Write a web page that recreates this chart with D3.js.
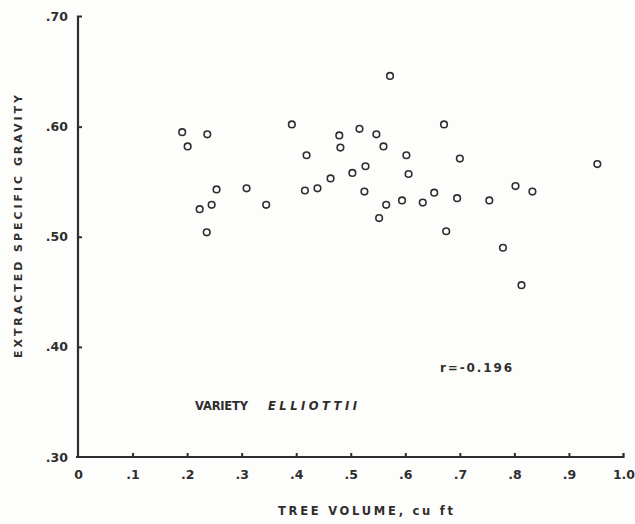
<!DOCTYPE html>
<html>
<head>
<meta charset="utf-8">
<script src="https://cdn.jsdelivr.net/npm/d3@7"></script>
<style>
  html, body { margin: 0; padding: 0; background: #fdfdfb; }
  svg { display: block; }
</style>
</head>
<body>
<svg id="chart" width="635" height="524"></svg>
<script>
// ---- data ----
const treeVolume = [0.191, 0.237, 0.201, 0.254, 0.309, 0.223, 0.245, 0.345, 0.236, 0.392,
                    0.419, 0.416, 0.439, 0.463, 0.479, 0.481, 0.503, 0.516, 0.527, 0.525,
                    0.547, 0.560, 0.572, 0.565, 0.552, 0.602, 0.606, 0.594, 0.632, 0.653,
                    0.671, 0.700, 0.695, 0.675, 0.754, 0.779, 0.802, 0.833, 0.813, 0.952];
const specificGravity = [0.595, 0.593, 0.582, 0.543, 0.544, 0.525, 0.529, 0.529, 0.504, 0.602,
                         0.574, 0.542, 0.544, 0.553, 0.592, 0.581, 0.558, 0.598, 0.564, 0.541,
                         0.593, 0.582, 0.646, 0.529, 0.517, 0.574, 0.557, 0.533, 0.531, 0.540,
                         0.602, 0.571, 0.535, 0.505, 0.533, 0.490, 0.546, 0.541, 0.456, 0.566];
const xTicks = [0, 0.1, 0.2, 0.3, 0.4, 0.5, 0.6, 0.7, 0.8, 0.9, 1.0];
const xTickLabels = ["0", ".1", ".2", ".3", ".4", ".5", ".6", ".7", ".8", ".9", "1.0"];
const yTicks = [0.30, 0.40, 0.50, 0.60, 0.70];
const yTickLabels = [".30", ".40", ".50", ".60", ".70"];
const xTitle = "TREE  VOLUME, cu ft";
const yTitle = "EXTRACTED  SPECIFIC  GRAVITY";
const corrText = "r=-0.196";
const varietyLabel = "VARIETY";
const varietyName = "ELLIOTTII";

// ---- layout ----
const W = 635, H = 524;
const m = { left: 78, right: 11.5, top: 16.5, bottom: 67 };
const ink = "#2e2e2e";
const fontFam = "'DejaVu Sans', 'Liberation Sans', sans-serif";

const svg = d3.select("#chart");
const x = d3.scaleLinear().domain([0, 1]).range([m.left, W - m.right]);
const y = d3.scaleLinear().domain([0.30, 0.70]).range([H - m.bottom, m.top]);

// x axis
const xAxis = d3.axisBottom(x)
  .tickValues(xTicks)
  .tickFormat((d, i) => xTickLabels[i])
  .tickSizeInner(-4).tickSizeOuter(0).tickPadding(13);
const gx = svg.append("g").attr("transform", `translate(0,${y(0.30)})`).call(xAxis);
gx.select(".domain").attr("stroke", ink).attr("stroke-width", 2.2)
  .attr("d", `M${x(0) - 2},0H${x(1)}V-4`);
gx.selectAll(".tick line").attr("stroke", ink).attr("stroke-width", 2);
gx.selectAll(".tick").filter(d => d === 0 || d === 1).select("line").remove();
gx.selectAll(".tick text").attr("fill", ink)
  .style("font-family", fontFam).style("font-size", "12.5px").style("font-weight", "bold");

// y axis
const yAxis = d3.axisLeft(y)
  .tickValues(yTicks)
  .tickFormat((d, i) => yTickLabels[i])
  .tickSizeInner(-4).tickSizeOuter(0).tickPadding(10);
const gy = svg.append("g").attr("transform", `translate(${x(0)},0)`).call(yAxis);
gy.select(".domain").attr("stroke", ink).attr("stroke-width", 2.2)
  .attr("d", `M4,${y(0.70)}H0V${y(0.30) + 1}`);
gy.selectAll(".tick line").attr("stroke", ink).attr("stroke-width", 2);
gy.selectAll(".tick").filter(d => d === 0.30 || d === 0.70).select("line").remove();
gy.selectAll(".tick text").attr("fill", ink)
  .style("font-family", fontFam).style("font-size", "12.5px").style("font-weight", "bold");

// axis titles
svg.append("text")
  .attr("x", 278).attr("y", 515)
  .attr("textLength", 175).attr("lengthAdjust", "spacing")
  .attr("fill", ink).style("font-family", fontFam).style("font-size", "11.5px").style("font-weight", "bold")
  .text(xTitle);

svg.append("text")
  .attr("transform", `translate(22,358) rotate(-90)`)
  .attr("textLength", 263).attr("lengthAdjust", "spacing")
  .attr("fill", ink).style("font-family", fontFam).style("font-size", "11px").style("font-weight", "bold")
  .text(yTitle);

// annotations
svg.append("text")
  .attr("x", 440).attr("y", 371.5)
  .attr("textLength", 72).attr("lengthAdjust", "spacing")
  .attr("fill", ink).style("font-family", fontFam).style("font-size", "12px").style("font-weight", "bold")
  .text(corrText);

svg.append("text")
  .attr("x", 195).attr("y", 410)
  .attr("textLength", 53).attr("lengthAdjust", "spacing")
  .attr("fill", ink).style("font-family", fontFam).style("font-size", "11.5px").style("font-weight", "bold")
  .text(varietyLabel);

svg.append("text")
  .attr("x", 268).attr("y", 410)
  .attr("textLength", 89).attr("lengthAdjust", "spacing")
  .attr("fill", ink).style("font-family", fontFam).style("font-size", "11.5px").style("font-weight", "bold")
  .style("font-style", "italic")
  .text(varietyName);

// points
svg.append("g").selectAll("circle")
  .data(treeVolume.map((v, i) => [v, specificGravity[i]]))
  .join("circle")
  .attr("cx", d => x(d[0]))
  .attr("cy", d => y(d[1]))
  .attr("r", 3.3)
  .attr("fill", "none")
  .attr("stroke", ink)
  .attr("stroke-width", 1.6);
</script>
</body>
</html>
